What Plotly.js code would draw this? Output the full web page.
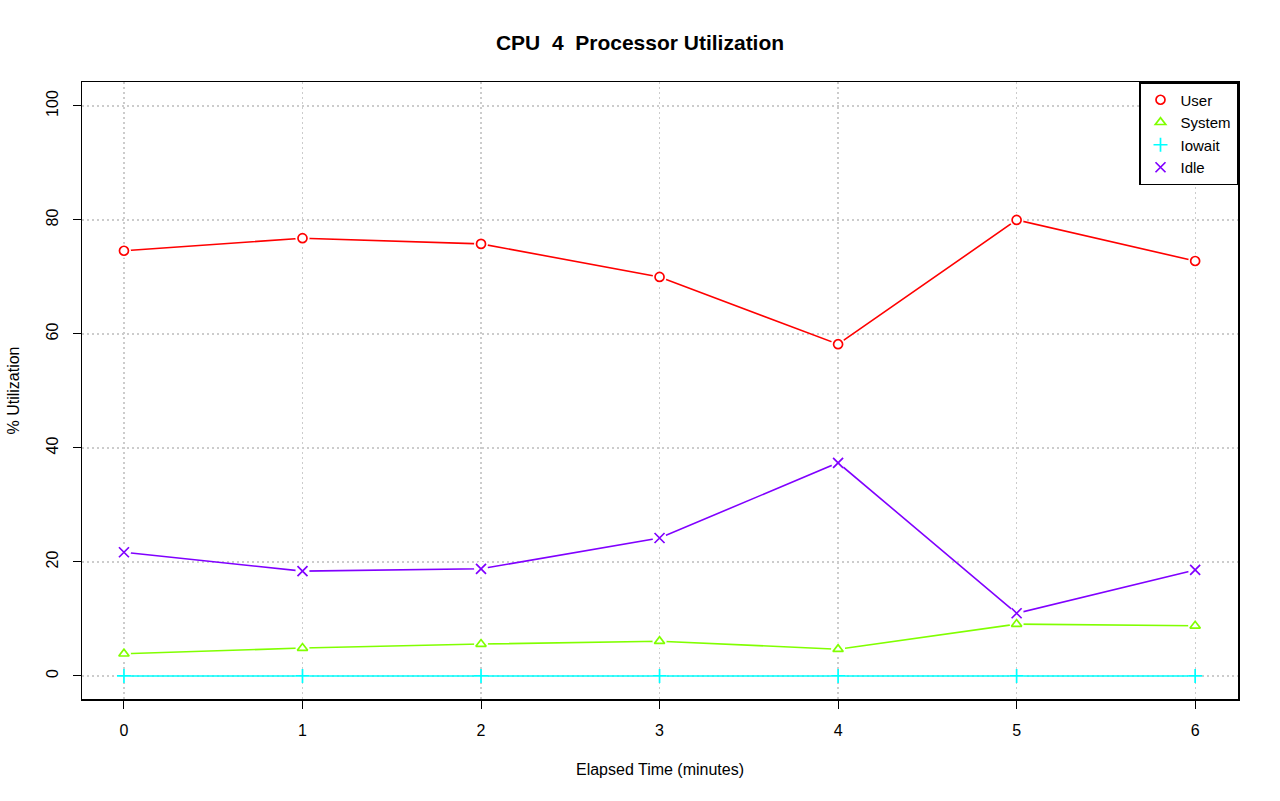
<!DOCTYPE html>
<html>
<head>
<meta charset="utf-8">
<script src="https://cdn.plot.ly/plotly-3.0.1.min.js"></script>
<style>html,body{margin:0;padding:0;background:#fff;}#chart{width:1280px;height:801px;}</style>
</head>
<body>
<div id="chart"></div>
<script>
const minutes = [0, 1, 2, 3, 4, 5, 6];
const userPct   = [74.6, 76.8, 75.8, 70.0, 58.2, 80.0, 72.8];
const systemPct = [3.9, 4.9, 5.6, 6.1, 4.7, 9.1, 8.8];
const iowaitPct = [0, 0, 0, 0, 0, 0, 0];
const idlePct   = [21.7, 18.4, 18.8, 24.2, 37.4, 11.0, 18.6];
const seriesNames = ["User", "System", "Iowait", "Idle"];
const seriesColors = ["#FF0000", "#80FF00", "#00FFFF", "#8000FF"];
const seriesSymbols = ["circle-open", "triangle-up-open", "cross-thin-open", "x-thin-open"];
const seriesData = [userPct, systemPct, iowaitPct, idlePct];

const traces = [];
seriesData.forEach((d, i) => {
  traces.push({x: minutes, y: d, type: 'scatter', mode: 'lines', showlegend: false,
    line: {color: seriesColors[i], width: 1.6}, hoverinfo: 'skip'});
});
seriesData.forEach((d, i) => {
  traces.push({x: minutes, y: d, type: 'scatter', mode: 'markers', showlegend: false,
    marker: {symbol: 'circle', size: 14, color: '#fff', line: {width: 0}}, hoverinfo: 'skip'});
});
seriesData.forEach((d, i) => {
  traces.push({x: minutes, y: d, type: 'scatter', mode: 'markers', name: seriesNames[i],
    marker: {symbol: seriesSymbols[i], size: i >= 2 ? 10 : 9, color: seriesColors[i],
      line: {color: seriesColors[i], width: 1.7}}});
});

const gridDash = '1.5px,3.5px';
const layout = {
  width: 1280, height: 801,
  paper_bgcolor: '#fff', plot_bgcolor: '#fff',
  margin: {l: 82, r: 42, t: 82, b: 102},
  font: {family: 'Liberation Sans, Arial, sans-serif', color: '#000', size: 16},
  title: {text: '<b>CPU  4  Processor Utilization</b>', x: 0.5, xanchor: 'center', y: 0.947, yanchor: 'middle',
    font: {size: 21, color: '#000'}},
  xaxis: {range: [-0.235, 6.24], tickvals: minutes, ticktext: minutes.map(String),
    ticks: 'outside', ticklen: 8, tickwidth: 1, tickcolor: '#000', ticklabelstandoff: 8,
    showline: true, linecolor: '#000', linewidth: 1.5, mirror: true,
    showgrid: true, gridcolor: '#cccccc', griddash: gridDash, gridwidth: 1.2, zeroline: false,
    tickfont: {size: 16}, title: {text: 'Elapsed Time (minutes)', font: {size: 16}, standoff: 26}},
  yaxis: {range: [-4.04, 104.2], tickvals: [0, 20, 40, 60, 80, 100],
    ticks: 'outside', ticklen: 8, tickwidth: 1, tickcolor: '#000', tickangle: -90, ticklabelstandoff: 8,
    showline: true, linecolor: '#000', linewidth: 1.5, mirror: true,
    showgrid: true, gridcolor: '#cccccc', griddash: gridDash, gridwidth: 1.2, zeroline: false,
    tickfont: {size: 16}, title: {text: '% Utilization', font: {size: 16}, standoff: 20}},
  legend: {x: 1, y: 1, xanchor: 'right', yanchor: 'top', bgcolor: '#fff',
    bordercolor: '#000', borderwidth: 1.5, font: {size: 15}, tracegroupgap: 0,
    itemwidth: 30},
  showlegend: true
};
Plotly.newPlot('chart', traces, layout, {staticPlot: true});
</script>
</body>
</html>
